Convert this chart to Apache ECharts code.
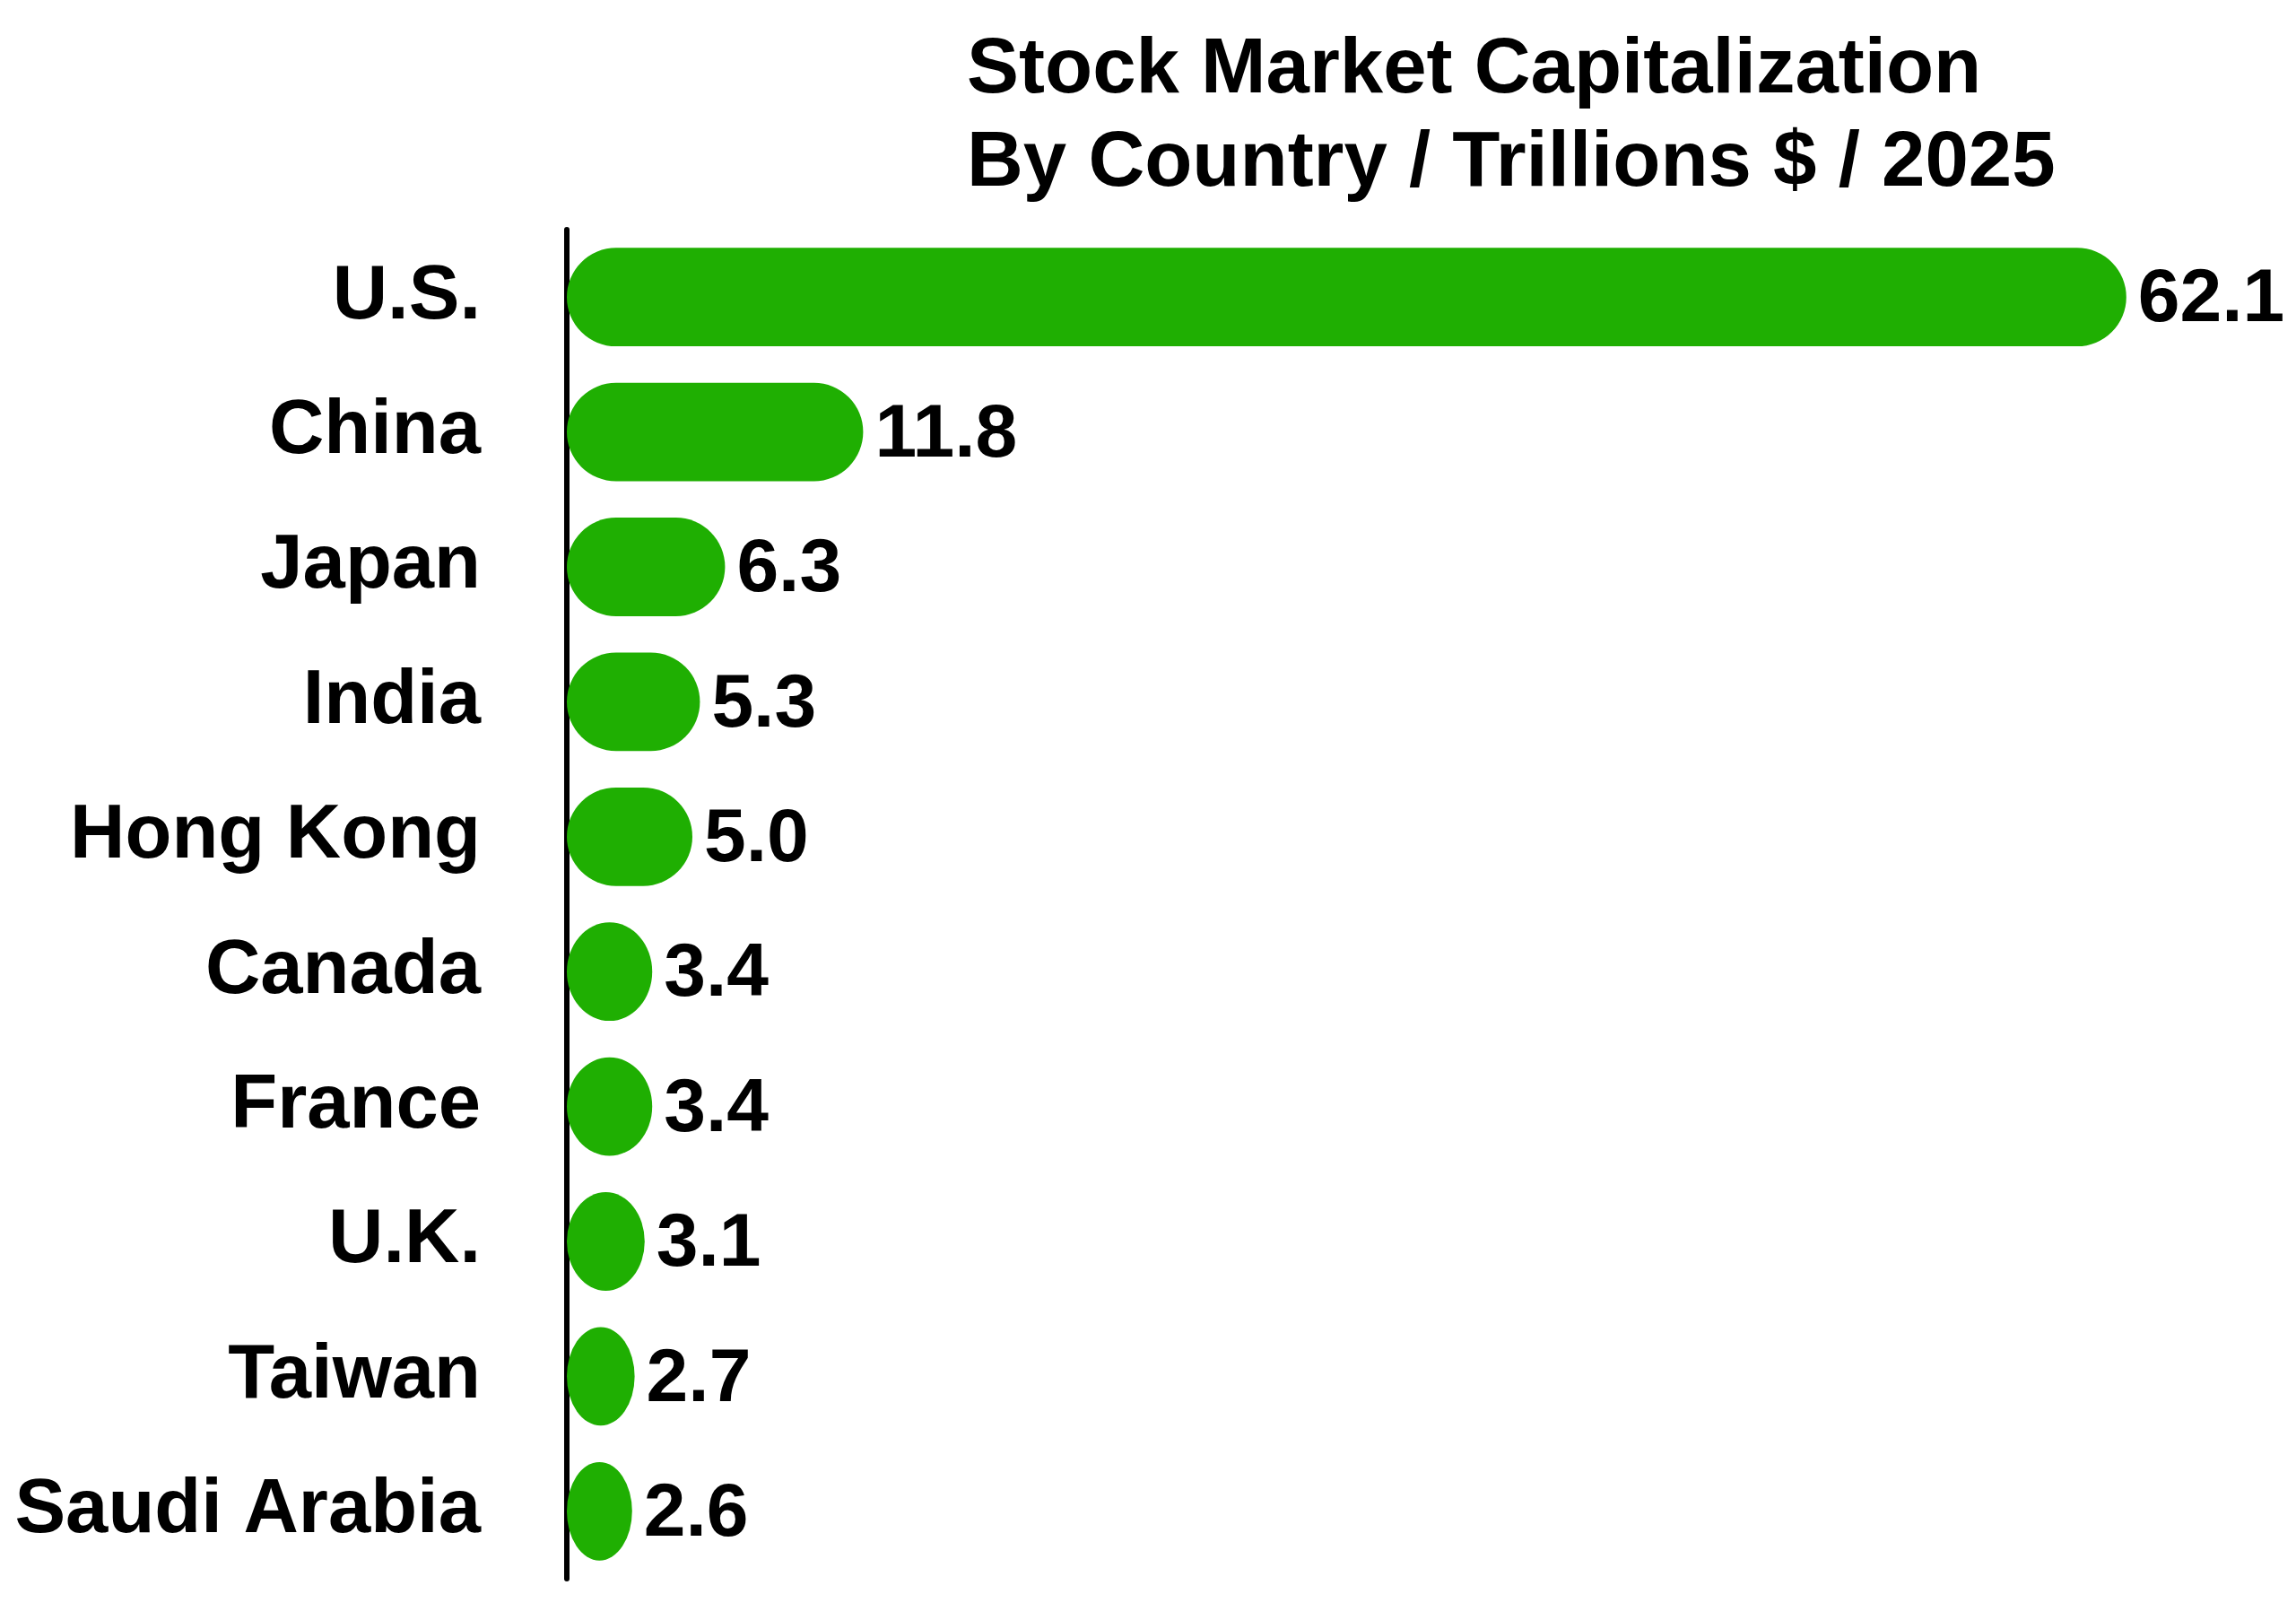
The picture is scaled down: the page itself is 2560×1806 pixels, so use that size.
<!DOCTYPE html>
<html>
<head>
<meta charset="utf-8">
<style>
  html, body { margin: 0; padding: 0; background: #ffffff; }
  #chart { width: 2560px; height: 1806px; }
</style>
<script src="https://cdn.jsdelivr.net/npm/echarts@6/dist/echarts.min.js"></script>
</head>
<body>
<div id="chart"></div>
<script>
const titleLines = ['Stock Market Capitalization', 'By Country / Trillions $ / 2025'];
const countries = ['U.S.', 'China', 'Japan', 'India', 'Hong Kong', 'Canada', 'France', 'U.K.', 'Taiwan', 'Saudi Arabia'];
const capTrillions = [62.1, 11.8, 6.3, 5.3, 5.0, 3.4, 3.4, 3.1, 2.7, 2.6];
const valueLabels = ['62.1', '11.8', '6.3', '5.3', '5.0', '3.4', '3.4', '3.1', '2.7', '2.6'];

const GREEN = '#1faf02';
const FONT = '"Liberation Sans", Arial, Helvetica, sans-serif';

const chart = echarts.init(document.getElementById('chart'), null, { renderer: 'canvas' });

function renderBar(params, api) {
  const idx = api.value(0);
  const val = api.value(1);
  const start = api.coord([0, idx]);
  const end = api.coord([val, idx]);
  const band = api.size([0, 1])[1];
  const h = band * 0.73;
  const x = start[0];
  const w = end[0] - start[0];
  const y = start[1] - h / 2;
  const ry = h / 2;
  const rx = Math.min(ry, w / 2);
  const d = 'M' + (x + rx) + ' ' + y +
            ' L' + (x + w - rx) + ' ' + y +
            ' A' + rx + ' ' + ry + ' 0 0 1 ' + (x + w - rx) + ' ' + (y + h) +
            ' L' + (x + rx) + ' ' + (y + h) +
            ' A' + rx + ' ' + ry + ' 0 0 1 ' + (x + rx) + ' ' + y + ' Z';
  return {
    type: 'group',
    children: [
      {
        type: 'path',
        shape: { pathData: d },
        style: { fill: GREEN, stroke: null }
      },
      {
        type: 'text',
        style: {
          text: valueLabels[idx],
          x: end[0] + 13,
          y: start[1] + 4,
          fill: '#000000',
          font: 'bold 84px ' + FONT,
          align: 'left',
          verticalAlign: 'middle'
        }
      }
    ]
  };
}

const option = {
  backgroundColor: '#ffffff',
  animation: false,
  title: {
    text: titleLines.join('\n'),
    left: 1073,
    top: 22,
    textStyle: {
      fontFamily: FONT,
      fontWeight: 'bold',
      fontSize: 87,
      lineHeight: 104,
      color: '#000000'
    }
  },
  grid: {
    left: 632,
    right: 108,
    top: 256,
    bottom: 46,
    containLabel: false
  },
  xAxis: {
    type: 'value',
    min: 0,
    max: 65,
    show: false
  },
  yAxis: {
    type: 'category',
    data: countries,
    inverse: true,
    offset: 3,
    axisLine: { show: true, lineStyle: { color: '#000000', width: 6 } },
    axisTick: { show: false },
    splitLine: { show: false },
    axisLabel: {
      margin: 93,
      color: '#000000',
      fontFamily: FONT,
      fontWeight: 'bold',
      fontSize: 85,
      align: 'right',
      padding: [8, 0, 0, 0]
    }
  },
  series: [
    {
      type: 'custom',
      renderItem: renderBar,
      encode: { x: 1, y: 0 },
      data: capTrillions.map((v, i) => [i, v]),
      z: 5
    }
  ]
};

chart.setOption(option);
</script>
</body>
</html>
